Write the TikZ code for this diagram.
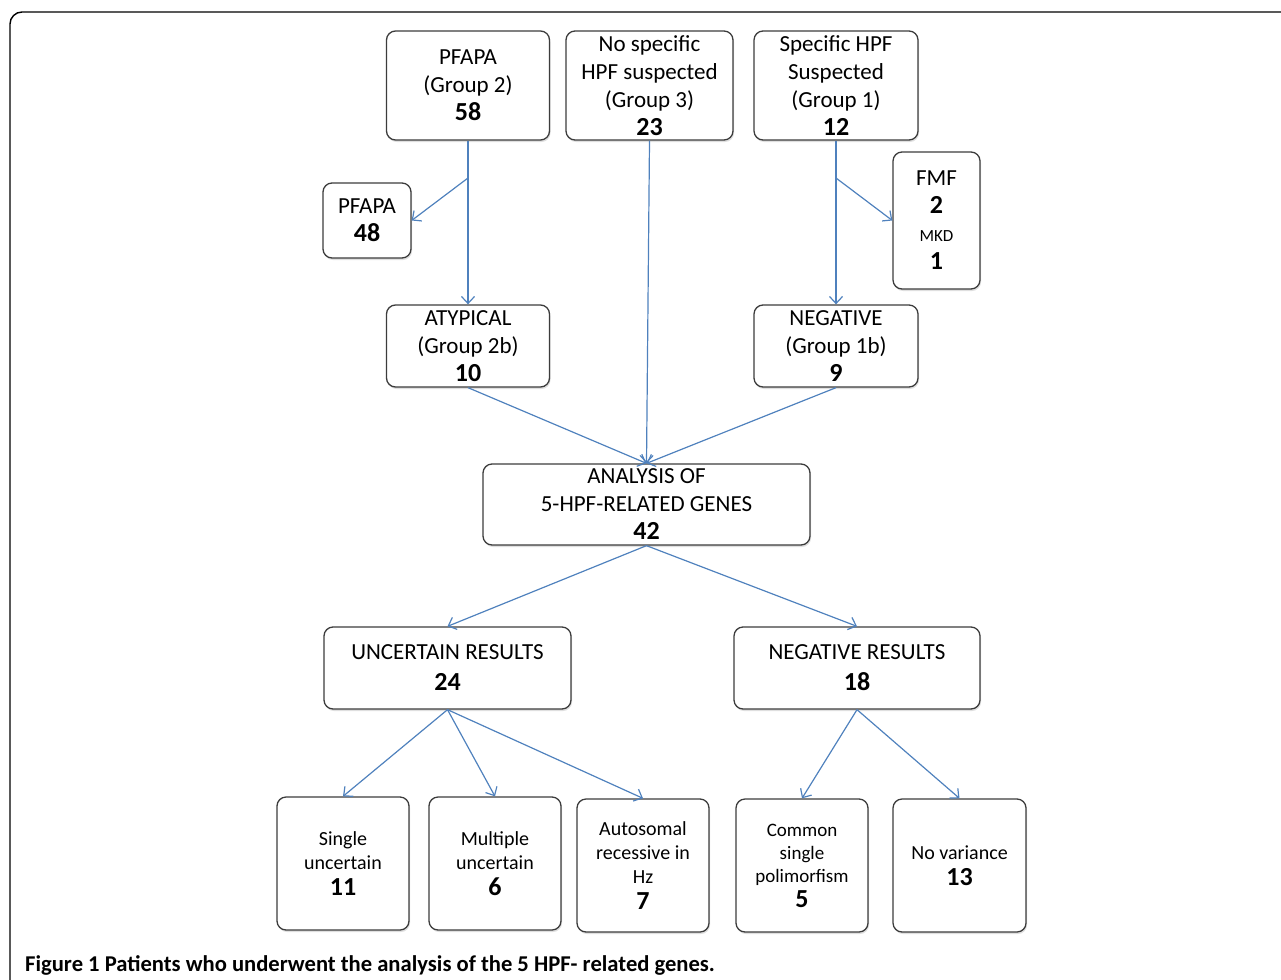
\documentclass[tikz,border=0pt]{standalone}
\usepackage{fontspec}
\setmainfont{Carlito}
\usetikzlibrary{arrows.meta, shadows}

\definecolor{arrowblue}{RGB}{79,129,189}
\definecolor{boxline}{RGB}{60,60,60}

\newcommand{\num}[1]{{\fontsize{26}{28}\selectfont\textbf{#1}}}

\begin{document}
\begin{tikzpicture}[x=1pt, y=-1pt]

\tikzset{box/.style = {shape=rectangle, rounded corners=9pt, draw=boxline, line width=1.3pt, fill=white,
  align=center, inner sep=0pt, drop shadow={shadow xshift=1pt, shadow yshift=-2pt, opacity=0.25},
  font=\fontsize{23}{28}\selectfont}}
\tikzset{small/.style = {font=\fontsize{20}{24}\selectfont}}
\tikzset{edge/.style = {-{Straight Barb[length=7pt, width=13pt]}, draw=arrowblue, line width=1.2pt}}

\useasboundingbox (0,0) rectangle (1281,979);
\clip (0,0) rectangle (1281,979);
\draw[line width=1.4pt, rounded corners=12pt] (10,1000) -- (10,12) -- (1300,12);

%boxes
\node[box, minimum width=163, minimum height=109] (pfapa) at (468,85.5) {PFAPA\\(Group 2)\\\num{58}};
\node[box, minimum width=167, minimum height=109] (nospec) at (649.5,85.5) {No specific\\HPF suspected\\(Group 3)\\\num{23}};
\node[box, minimum width=164, minimum height=109] (spec) at (836,85.5) {Specific HPF\\Suspected\\(Group 1)\\\num{12}};
\node[box, minimum width=88, minimum height=75] (pfapab) at (367,220.5) {PFAPA\\\num{48}};
\node[box, minimum width=87, minimum height=137] (fmf) at (936.5,220.5) {FMF\\\num{2}\\{\fontsize{17}{28}\selectfont MKD}\\\num{1}};
\node[box, minimum width=163, minimum height=82] (atyp) at (468,346) {ATYPICAL\\(Group 2b)\\\num{10}};
\node[box, minimum width=164, minimum height=82] (neg) at (836,346) {NEGATIVE\\(Group 1b)\\\num{9}};
\node[box, minimum width=327, minimum height=81] (analysis) at (646.5,504.5) {ANALYSIS OF\\5-HPF-RELATED GENES\\\num{42}};
\node[box, minimum width=247, minimum height=82] (uncert) at (447.5,668) {UNCERTAIN RESULTS\\[3pt]\num{24}};
\node[box, minimum width=246, minimum height=82] (negres) at (857,668) {NEGATIVE RESULTS\\[3pt]\num{18}};
\node[box, small, minimum width=132, minimum height=133] (single) at (343,863.5) {Single\\uncertain\\[2pt]\num{11}};
\node[box, small, minimum width=132, minimum height=133] (multi) at (495,863.5) {Multiple\\uncertain\\[2pt]\num{6}};
\node[box, small, minimum width=132, minimum height=133] (autos) at (643,865.5) {Autosomal\\recessive in\\Hz\\[2pt]\num{7}};
\node[box, small, minimum width=132, minimum height=133, font=\fontsize{19}{23}\selectfont] (common) at (802,865.5) {Common\\single\\polimorfism\\[2pt]\num{5}};
\node[box, small, minimum width=133, minimum height=133] (novar) at (959.5,865.5) {No variance\\[2pt]\num{13}};

%caption
\node[anchor=west, inner sep=0pt, font=\fontsize{22.6}{24}\selectfont\bfseries] (caption) at (25,965) {Figure 1 Patients who underwent the analysis of the 5 HPF- related genes.};

%arrows
\coordinate (splitl) at (468,178);
\coordinate (splitr) at (836,178);
\draw[edge] (pfapa) -- (atyp);
\draw[edge] (splitl) -- (pfapab.east);
\draw[edge] (spec) -- (neg);
\draw[edge] (splitr) -- (fmf.west);
\draw[edge] (nospec.south) -- (analysis.north);
\draw[edge] (atyp.south) -- (analysis.north);
\draw[edge] (neg.south) -- (analysis.north);
\draw[edge] (analysis.south) -- (uncert.north);
\draw[edge] (analysis.south) -- (negres.north);
\draw[edge] (uncert.south) -- (single.north);
\draw[edge] (uncert.south) -- (multi.north);
\draw[edge] (uncert.south) -- (autos.north);
\draw[edge] (negres.south) -- (common.north);
\draw[edge] (negres.south) -- (novar.north);

\end{tikzpicture}
\end{document}
